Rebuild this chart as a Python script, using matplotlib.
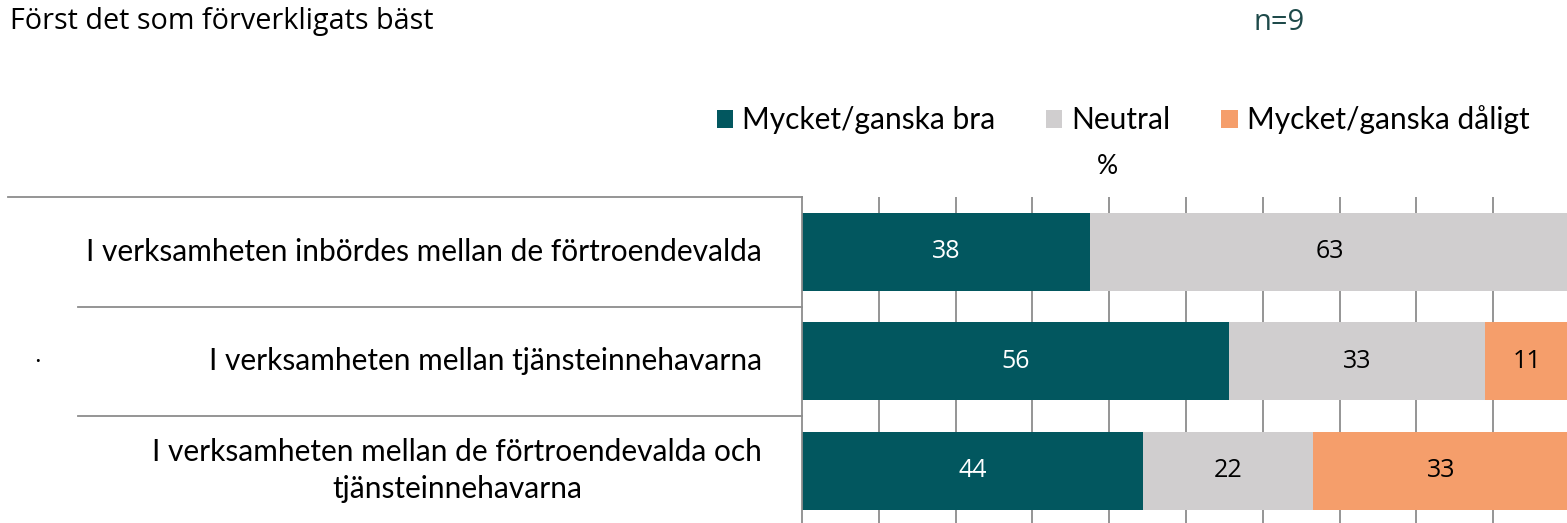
import matplotlib
matplotlib.use("Agg")
import matplotlib.pyplot as plt
import numpy as np

categories = [
    "I verksamheten inbördes mellan de förtroendevalda",
    "I verksamheten mellan tjänsteinnehavarna",
    "I verksamheten mellan de förtroendevalda och\ntjänsteinnehavarna",
]
series_names = ["Mycket/ganska bra", "Neutral", "Mycket/ganska dåligt"]
good = [37.5, 55.6, 44.4]
neutral = [62.5, 33.3, 22.2]
bad = [0.0, 11.1, 33.3]
value_labels = [["38", "56", "44"], ["63", "33", "22"], ["", "11", "33"]]

colors = ["#02575F", "#D0CECF", "#F59E6B"]
text_colors = ["white", "black", "black"]

plt.rcParams['font.family'] = ['Open Sans', 'DejaVu Sans']

fig = plt.figure(figsize=(15.67, 5.23), dpi=100)
W, H = 1567, 523
ax = fig.add_axes([802 / W, 0, (W - 802) / W, (H - 197) / H])

y = np.arange(len(categories))
left = np.zeros(len(categories))
for vals, name, col, tcol, labs in zip([good, neutral, bad], series_names, colors,
                                        text_colors, value_labels):
    ax.barh(y, vals, left=left, height=0.715, color=col, label=name, zorder=2)
    for i, v in enumerate(vals):
        if v > 0:
            ax.text(left[i] + v / 2, y[i], labs[i], ha='center', va='center',
                    color=tcol, fontsize=18, zorder=3)
    left += np.array(vals)

ax.set_xlim(0, (W - 802) / 7.68)
ax.set_ylim(-0.5 + 326 / 109.5, -0.5)
ax.set_xticks(np.arange(10, 100, 10))
ax.xaxis.grid(True, color='#8C8C8C', linewidth=1.3, zorder=1)
ax.set_axisbelow(True)
ax.tick_params(length=0, labelbottom=False, labelleft=False)
ax.set_yticks([])
for s in ['top', 'right', 'bottom']:
    ax.spines[s].set_visible(False)
ax.spines['left'].set_color('#8C8C8C')
ax.spines['left'].set_linewidth(1.3)

# category separators extending into the label area
trans = ax.get_yaxis_transform()
ax.plot([(8 - 802) / (W - 802), 0], [-0.5, -0.5], color='#8C8C8C', lw=1.3,
        transform=trans, clip_on=False)
for b in [0.5, 1.5]:
    ax.plot([(78 - 802) / (W - 802), 0], [b, b], color='#8C8C8C', lw=1.3,
            transform=trans, clip_on=False)

for i, cat in enumerate(categories):
    ax.text(-40 / (W - 802), y[i], cat, transform=trans, ha='right', va='center',
            multialignment='center', fontsize=21.5, family=['Lato', 'DejaVu Sans'],
            linespacing=1.38)

fig.text(10 / W, 1 - 22 / H, "Först det som förverkligats bäst", fontsize=20.7,
         ha='left', va='center')
fig.text(1253 / W, 1 - 22 / H, "n=9", fontsize=21, color='#1E4A4A',
         ha='left', va='center')
fig.text(37 / W, 1 - 362 / H, "·", fontsize=18, ha='center', va='center')
fig.text(1107 / W, 1 - 166 / H, "%", fontsize=19, ha='center', va='center',
         family=['Lato', 'DejaVu Sans'])

handles, labels = ax.get_legend_handles_labels()
fig.legend(handles, labels, loc='center', bbox_to_anchor=(1123 / W, 1 - 120 / H),
           ncol=3, frameon=False, prop={'family': ['Lato', 'DejaVu Sans'], 'size': 21.5},
           handlelength=0.55, handleheight=0.55, handletextpad=0.3, columnspacing=1.7)

fig.savefig("out.png", dpi=100)
